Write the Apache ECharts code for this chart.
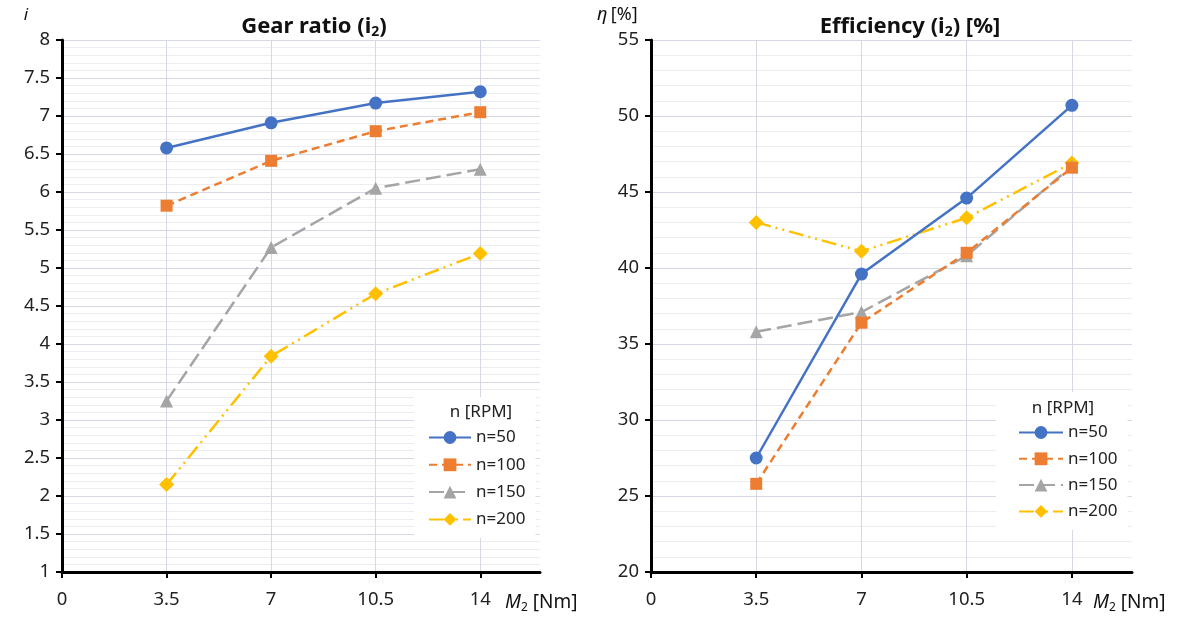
<!DOCTYPE html>
<html>
<head>
<meta charset="utf-8">
<script src="https://cdn.jsdelivr.net/npm/echarts@6/dist/echarts.min.js"></script>
<style>html,body{margin:0;padding:0;background:#fff}#c{width:1185px;height:619px}</style>
</head>
<body>
<div id="c"></div>
<script>
const torque = [3.5, 7, 10.5, 14];
const xTicks = [0, 3.5, 7, 10.5, 14];
const seriesNames = ['n=50', 'n=100', 'n=150', 'n=200'];
const ratio50 = [6.58, 6.91, 7.17, 7.32];
const ratio100 = [5.82, 6.41, 6.80, 7.05];
const ratio150 = [3.25, 5.27, 6.05, 6.30];
const ratio200 = [2.15, 3.84, 4.66, 5.19];
const eff50 = [27.5, 39.6, 44.6, 50.7];
const eff100 = [25.8, 36.4, 41.0, 46.6];
const eff150 = [35.8, 37.1, 40.8, 46.7];
const eff200 = [43.0, 41.1, 43.3, 46.9];

const FONT = '"Noto Sans", sans-serif';
const styles = [
  {color: '#4472C4', type: 'solid', symbol: 'circle', size: 13},
  {color: '#ED7D31', type: [8, 5], symbol: 'rect', size: 12},
  {color: '#A5A5A5', type: [15, 6], symbol: 'triangle', size: 13},
  {color: '#FFC000', type: [15, 5, 2, 5, 2, 5], symbol: 'diamond', size: 15}
];
const pair = arr => torque.map((x, i) => [x, arr[i]]);

function mkSeries(arrs, idx) {
  return arrs.map((a, i) => ({
    name: seriesNames[i], type: 'line', xAxisIndex: idx, yAxisIndex: idx,
    data: pair(a), symbol: styles[i].symbol, symbolSize: styles[i].size,
    lineStyle: {color: styles[i].color, width: 2.5, type: styles[i].type},
    itemStyle: {color: styles[i].color},
    emphasis: {disabled: true}, animation: false, z: 3 + (3 - i)
  }));
}

function xAxis(idx) {
  return {
    type: 'value', gridIndex: idx, min: 0, max: 16, interval: 3.5,
    axisLine: {lineStyle: {color: '#000', width: 3}},
    axisTick: {show: true, length: 6, lineStyle: {color: '#000', width: 2}, customValues: xTicks},
    axisLabel: {customValues: xTicks, margin: 18, fontSize: 18.5, color: '#222', fontFamily: FONT,
      formatter: v => String(v)},
    splitLine: {show: true, lineStyle: {color: ['#d6d9e4', '#d6d9e4', '#d6d9e4', '#d6d9e4', '#d6d9e4', 'rgba(0,0,0,0)'], width: 1}},
    minorTick: {show: false}
  };
}
function yAxis(idx, min, max, interval) {
  return {
    type: 'value', gridIndex: idx, min: min, max: max, interval: interval,
    axisLine: {show: true, lineStyle: {color: '#000', width: 3}},
    axisTick: {show: true, length: 6, lineStyle: {color: '#000', width: 2}},
    axisLabel: {margin: 12, fontSize: 18.5, color: '#222', fontFamily: FONT},
    splitLine: {show: true, lineStyle: {color: '#d6d9e4', width: 1}},
    minorTick: {show: false, splitNumber: 5},
    minorSplitLine: {show: true, lineStyle: {color: '#ecedf2', width: 1}}
  };
}

const chart = echarts.init(document.getElementById('c'), null, {renderer: 'canvas'});
const textBase = {fontFamily: FONT, fill: '#111'};
const titleRich = {
  b: {fontFamily: FONT, fontSize: 22, fontWeight: 'bold', fill: '#111', lineHeight: 28},
  s: {fontFamily: FONT, fontSize: 14, fontWeight: 'bold', fill: '#111', padding: [11, 0, 0, 0]}
};
const axisNameRich = {
  i: {fontFamily: FONT, fontSize: 19, fontStyle: 'italic', fill: '#111'},
  s: {fontFamily: FONT, fontSize: 12, fill: '#111', padding: [10, 0, 0, 0]},
  n: {fontFamily: FONT, fontSize: 19, fill: '#111'}
};
chart.setOption({
  backgroundColor: '#fff',
  animation: false,
  grid: [
    {left: 62, right: 645, top: 40, bottom: 47, containLabel: false},
    {left: 651, right: 53, top: 40, bottom: 47, containLabel: false}
  ],
  xAxis: [xAxis(0), xAxis(1)],
  yAxis: [yAxis(0, 1, 8, 0.5), yAxis(1, 20, 55, 5)],
  legend: [
    {data: seriesNames, orient: 'vertical', left: 414, top: 397, itemWidth: 42, itemHeight: 16, itemGap: 10.3,
      padding: [32, 10, 10, 14], backgroundColor: '#fff', selectedMode: false,
      textStyle: {fontSize: 17, color: '#222', fontFamily: FONT}},
    {data: seriesNames, orient: 'vertical', left: 996, top: 392, itemWidth: 44, itemHeight: 16, itemGap: 9.3,
      padding: [32, 10, 10, 22], backgroundColor: '#fff', selectedMode: false,
      textStyle: {fontSize: 17, color: '#222', fontFamily: FONT}}
  ],
  graphic: [
    {type: 'text', x: 314, y: 27, z: 100, style: {text: '{b|Gear ratio (i}{s|2}{b|)}', align: 'center', verticalAlign: 'middle', rich: titleRich}},
    {type: 'text', x: 910, y: 27, z: 100, style: {text: '{b|Efficiency (i}{s|2}{b|) [%]}', align: 'center', verticalAlign: 'middle', rich: titleRich}},
    {type: 'text', x: 26, y: 15, z: 100, style: Object.assign({text: 'i', fontSize: 17, fontStyle: 'italic', align: 'center', verticalAlign: 'middle'}, textBase)},
    {type: 'text', x: 597, y: 15, z: 100, style: {text: '{i|η} {n|[%]}', align: 'left', verticalAlign: 'middle',
      rich: {i: {fontFamily: FONT, fontSize: 18, fontStyle: 'italic', fill: '#111'}, n: {fontFamily: FONT, fontSize: 18, fill: '#111'}}}},
    {type: 'text', x: 505, y: 603, z: 100, style: {text: '{i|M}{s|2}{n| [Nm]}', align: 'left', verticalAlign: 'middle', rich: axisNameRich}},
    {type: 'text', x: 1093, y: 603, z: 100, style: {text: '{i|M}{s|2}{n| [Nm]}', align: 'left', verticalAlign: 'middle', rich: axisNameRich}},
    {type: 'text', x: 481, y: 412, z: 100, style: Object.assign({text: 'n [RPM]', fontSize: 17, align: 'center', verticalAlign: 'middle'}, textBase, {fill: '#222'})},
    {type: 'text', x: 1063, y: 408, z: 100, style: Object.assign({text: 'n [RPM]', fontSize: 17, align: 'center', verticalAlign: 'middle'}, textBase, {fill: '#222'})}
  ],
  series: mkSeries([ratio50, ratio100, ratio150, ratio200], 0).concat(mkSeries([eff50, eff100, eff150, eff200], 1))
});
</script>
</body>
</html>
